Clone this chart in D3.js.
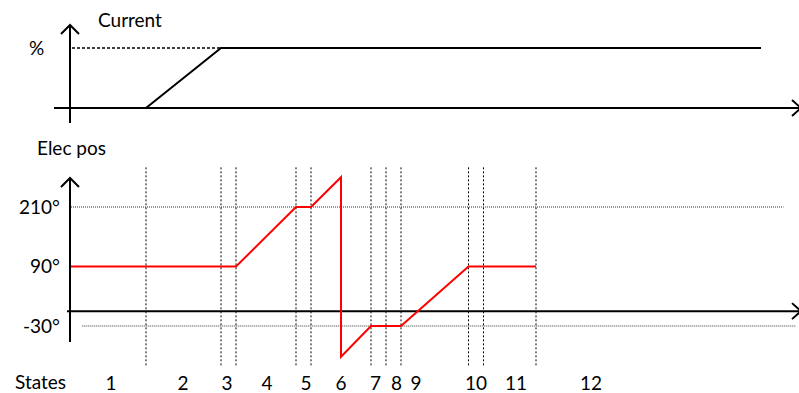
<!DOCTYPE html>
<html>
<head>
<meta charset="utf-8">
<script src="https://cdn.jsdelivr.net/npm/d3@7"></script>
<style>
  html, body { margin: 0; padding: 0; background: #fff; }
  svg { display: block; }
  text { font-family: Lato, "Noto Sans", sans-serif; font-size: 19px; fill: #000; }
</style>
</head>
<body>
<svg id="chart" width="799" height="393"></svg>
<script>
// Time is in abstract units; each state transition happens at one of these instants.
const stateBoundaries = [5, 10, 11, 15, 16, 20, 21, 22, 26.5, 27.5, 31];

// Current command (% of target) over time.
const currentTime  = [0, 5, 10, 46];
const currentValue = [0, 0, 100, 100];

// Electrical position (degrees) over time; repeated instants form the vertical jump.
const posTime  = [0, 11, 15, 16, 18, 18, 20, 22, 26.5, 31];
const posValue = [90, 90, 210, 210, 270, -92, -30, -30, 90, 90];

// Angle tick labels and the reference lines drawn through two of them.
const angleTicks  = [210, 90, -30];
const angleLabels = ["210°", "90°", "-30°"];
const refAngles   = [210, -30];

// State numbers and where each sits along the time axis.
const stateNames  = ["1", "2", "3", "4", "5", "6", "7", "8", "9", "10", "11", "12"];
const stateLabelAt = [2.67, 7.47, 10.4, 13.07, 15.67, 18, 20.3, 21.7, 23, 27, 29.67, 34.67];

const svg = d3.select("#chart");

const x = d3.scaleLinear().domain([0, 48.5]).range([71, 798.5]);
const yCur = d3.scaleLinear().domain([0, 100]).range([108, 48]);
const yPos = d3.scaleLinear().domain([-30, 210]).range([326, 207]);

const axisX = x(0) - 1;

function chevron(g, tipX, tipY, dir) {
  // open arrowhead drawn as two short strokes
  const p = dir === "up"
    ? [[tipX - 9, tipY + 9], [tipX, tipY], [tipX + 9, tipY + 9]]
    : [[tipX - 9, tipY - 8], [tipX, tipY], [tipX - 9, tipY + 8]];
  g.append("path")
    .attr("d", d3.line()(p))
    .attr("fill", "none").attr("stroke", "#000").attr("stroke-width", 2);
}

// ---------- Current panel ----------
const curPanel = svg.append("g");

curPanel.append("line")
  .attr("x1", axisX + 2).attr("x2", x(10))
  .attr("y1", yCur(100)).attr("y2", yCur(100))
  .attr("stroke", "#000").attr("stroke-width", 1.5)
  .attr("stroke-dasharray", "3,2");

curPanel.append("line")
  .attr("x1", 54).attr("x2", 800)
  .attr("y1", yCur(0)).attr("y2", yCur(0))
  .attr("stroke", "#000").attr("stroke-width", 2);
chevron(curPanel, 801, yCur(0), "right");

curPanel.append("line")
  .attr("x1", axisX).attr("x2", axisX)
  .attr("y1", 25).attr("y2", 123)
  .attr("stroke", "#000").attr("stroke-width", 2);
chevron(curPanel, axisX, 25, "up");

curPanel.append("path")
  .datum(d3.zip(currentTime, currentValue))
  .attr("d", d3.line().x(d => x(d[0])).y(d => yCur(d[1])))
  .attr("fill", "none").attr("stroke", "#000").attr("stroke-width", 2);

curPanel.append("text").attr("x", 98).attr("y", 27).text("Current");
curPanel.append("text").attr("x", 29).attr("y", 55).text("%");

// ---------- Electrical position panel ----------
const posPanel = svg.append("g");

// state boundaries
posPanel.selectAll("line.state")
  .data(stateBoundaries)
  .join("line")
  .attr("class", "state")
  .attr("x1", d => x(d)).attr("x2", d => x(d))
  .attr("y1", yPos(290)).attr("y2", yPos(-110))
  .attr("stroke", "#000").attr("stroke-width", 1)
  .attr("stroke-dasharray", "2,2");

// reference angles
posPanel.selectAll("line.ref")
  .data(refAngles)
  .join("line")
  .attr("class", "ref")
  .attr("x1", d => d === 210 ? x(0) : x(0.75))
  .attr("x2", d => d === 210 ? x(47.5) : x(48.3))
  .attr("y1", d => yPos(d)).attr("y2", d => yPos(d))
  .attr("stroke", "#333").attr("stroke-width", 1)
  .attr("stroke-dasharray", "1,1");

// time axis
posPanel.append("line")
  .attr("x1", 67).attr("x2", 800)
  .attr("y1", yPos(0)).attr("y2", yPos(0))
  .attr("stroke", "#000").attr("stroke-width", 2);
chevron(posPanel, 801, yPos(0), "right");

// angle axis
posPanel.append("line")
  .attr("x1", axisX).attr("x2", axisX)
  .attr("y1", 178).attr("y2", 342)
  .attr("stroke", "#000").attr("stroke-width", 2);
chevron(posPanel, axisX, 178, "up");

posPanel.append("path")
  .datum(d3.zip(posTime, posValue))
  .attr("d", d3.line().x(d => x(d[0])).y(d => yPos(d[1])))
  .attr("fill", "none").attr("stroke", "#ff0000").attr("stroke-width", 2);

posPanel.selectAll("text.tick")
  .data(d3.zip(angleTicks, angleLabels))
  .join("text")
  .attr("class", "tick")
  .attr("x", 60)
  .attr("y", d => yPos(d[0]) + 6.5)
  .attr("text-anchor", "end")
  .text(d => d[1]);

posPanel.append("text").attr("x", 37).attr("y", 155).text("Elec pos");

// state labels
posPanel.append("text").attr("x", 15).attr("y", 389).text("States");
posPanel.selectAll("text.state")
  .data(d3.zip(stateLabelAt, stateNames))
  .join("text")
  .attr("class", "state")
  .attr("x", d => x(d[0]))
  .attr("y", 390)
  .attr("text-anchor", "middle")
  .text(d => d[1]);
</script>
</body>
</html>
